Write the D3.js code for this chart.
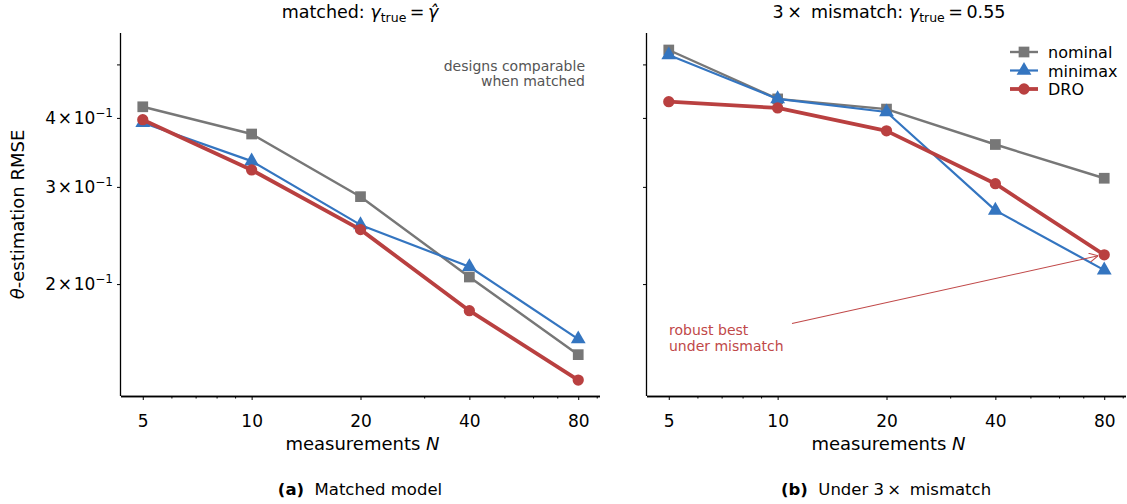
<!DOCTYPE html>
<html><head><meta charset="utf-8">
<script src="https://cdn.jsdelivr.net/npm/d3@7"></script>
<style>body{margin:0;background:#fff}text{font-family:"DejaVu Sans",sans-serif}</style>
</head><body>
<svg id="c" width="1127" height="504"></svg>
<script>
const Ns = [5, 10, 20, 40, 80];
const seriesNames = ["nominal", "minimax", "DRO"];
// panel (a) matched
const matchedNominal = [0.419, 0.374, 0.288, 0.206, 0.149];
const matchedMinimax = [0.392, 0.334, 0.256, 0.215, 0.159];
const matchedDRO     = [0.397, 0.322, 0.251, 0.179, 0.134];
// panel (b) mismatch
const mismatchNominal = [0.531, 0.433, 0.415, 0.358, 0.311];
const mismatchMinimax = [0.520, 0.433, 0.410, 0.272, 0.212];
const mismatchDRO     = [0.428, 0.417, 0.379, 0.304, 0.226];
const yTicks = [0.2, 0.3, 0.4, 0.5];
const yTickLabels = ["2", "3", "4", ""];
const xMinor = [6, 7, 8, 9, 30, 50, 60, 70, 90];

const colors = {nominal: "#777777", minimax: "#3475c0", DRO: "#b94040"};
const widths = {nominal: 2.4, minimax: 2.2, DRO: 3.8};
const shapes = {nominal: d3.symbolSquare, minimax: d3.symbolTriangle, DRO: d3.symbolCircle};
const sizes = {nominal: 115, minimax: 95, DRO: 100};

const svg = d3.select("#c");
const yTop = 33, yBottom = 396;
const lo = Math.log10(5) - 0.05 * Math.log10(16), hi = Math.log10(80) + 0.05 * Math.log10(16);
const y = d3.scaleLog().domain([0.1254, 0.570]).range([yBottom, yTop]);

function panel(x0, x1, data, showY) {
  const x = d3.scaleLog().domain([Math.pow(10, lo), Math.pow(10, hi)]).range([x0, x1]);
  const g = svg.append("g");
  seriesNames.forEach(name => {
    const vals = data[name];
    const line = d3.line().x((d, i) => x(Ns[i])).y(d => y(d));
    g.append("path").attr("d", line(vals)).attr("fill", "none")
      .attr("stroke", colors[name]).attr("stroke-width", widths[name]).attr("stroke-linejoin", "round");
    g.selectAll(null).data(vals).enter().append("path")
      .attr("d", d3.symbol().type(shapes[name]).size(sizes[name]))
      .attr("transform", (d, i) => `translate(${x(Ns[i])},${y(d)})`)
      .attr("fill", colors[name]);
  });
  const xa = g.append("g").attr("transform", `translate(0,${yBottom})`)
    .call(d3.axisBottom(x).tickValues(Ns).tickFormat(d3.format("d")).tickSize(4));
  const xm = g.append("g").attr("transform", `translate(0,${yBottom})`)
    .call(d3.axisBottom(x).tickValues(xMinor).tickFormat("").tickSize(2.5));
  [xa, xm].forEach(a => { a.select(".domain").attr("d", `M${x0},0.5H${x1}`).attr("stroke-width", 1.3); a.selectAll("line").attr("stroke-width", 1); });
  xa.selectAll("text").attr("font-size", 17).attr("fill", "#000").attr("y", 31).attr("dy", 0);
  const ya = g.append("g").attr("transform", `translate(${x0},0)`)
    .call(d3.axisLeft(y).tickValues(yTicks).tickFormat("").tickSize(4));
  ya.select(".domain").attr("d", `M-0.5,${yTop}V${yBottom}`).attr("stroke-width", 1.3);
  if (showY) {
    yTicks.forEach((t, i) => {
      if (!yTickLabels[i]) return;
      const tx = g.append("text").attr("x", x0 - 8).attr("y", y(t) + 6).attr("text-anchor", "end").attr("font-size", 17);
      tx.append("tspan").text(yTickLabels[i] + "\u200a×\u200a10");
      tx.append("tspan").attr("dy", -7).attr("font-size", 12).text("\u22121");
    });
  }
  const cx = (x0 + x1) / 2;
  const xl = g.append("text").attr("x", cx + 2).attr("y", 450).attr("text-anchor", "middle").attr("font-size", 18);
  xl.append("tspan").text("measurements ");
  xl.append("tspan").attr("font-style", "italic").text("N");
  return x;
}

const xA = panel(121, 600, {nominal: matchedNominal, minimax: matchedMinimax, DRO: matchedDRO}, true);
const xB = panel(647, 1126, {nominal: mismatchNominal, minimax: mismatchMinimax, DRO: mismatchDRO}, false);

const yl = svg.append("text").attr("transform", `translate(24,${(yTop + yBottom) / 2}) rotate(-90)`)
  .attr("text-anchor", "middle").attr("font-size", 18);
yl.append("tspan").attr("font-style", "italic").text("θ");
yl.append("tspan").text("-estimation RMSE");

function title(cx, pre, post) {
  const t = svg.append("text").attr("x", cx).attr("y", 18).attr("text-anchor", "middle").attr("font-size", 17.5);
  t.append("tspan").text(pre);
  t.append("tspan").attr("font-style", "italic").text("γ");
  t.append("tspan").attr("dy", 4).attr("font-size", 12.5).text("true");
  t.append("tspan").attr("dy", -4).text("\u2009=\u2009");
  if (post === null) {
    t.append("tspan").attr("font-style", "italic").text("γ\u0302");
  } else t.append("tspan").text(post);
}
title(360, "matched: ", null);
title(889, "3\u2009×\u2009 mismatch: ", "0.55");

const a1 = svg.append("text").attr("text-anchor", "end").attr("font-size", 14).attr("fill", "#555");
a1.append("tspan").attr("x", 585).attr("y", 71).text("designs comparable");
a1.append("tspan").attr("x", 585).attr("y", 86).text("when matched");

const red = "#c04848";
const a2 = svg.append("text").attr("font-size", 14).attr("fill", red);
a2.append("tspan").attr("x", 669).attr("y", 335).text("robust best");
a2.append("tspan").attr("x", 669).attr("y", 351).text("under mismatch");
svg.append("defs").append("marker").attr("id", "ah").attr("viewBox", "0 0 10 10").attr("refX", 10).attr("refY", 5)
  .attr("markerWidth", 9).attr("markerHeight", 9).attr("markerUnits", "userSpaceOnUse").attr("orient", "auto")
  .append("path").attr("d", "M0,0L10,5L0,10").attr("fill", "none").attr("stroke", red).attr("stroke-width", 1.2);
const ax = xB(80) - 6, ay = y(mismatchDRO[4]) + 1;
svg.append("line").attr("x1", 792).attr("y1", 323.5).attr("x2", ax).attr("y2", ay)
  .attr("stroke", red).attr("stroke-width", 1.1).attr("marker-end", "url(#ah)");

seriesNames.forEach((name, i) => {
  const ly = 52 + i * 18.5;
  svg.append("line").attr("x1", 1010).attr("x2", 1038).attr("y1", ly).attr("y2", ly)
    .attr("stroke", colors[name]).attr("stroke-width", widths[name]);
  svg.append("path").attr("d", d3.symbol().type(shapes[name]).size(sizes[name]))
    .attr("transform", `translate(1024,${ly})`).attr("fill", colors[name]);
  svg.append("text").attr("x", 1048).attr("y", ly + 6).attr("font-size", 16).text(name);
});

function caption(cx, b, rest) {
  const t = svg.append("text").attr("x", cx).attr("y", 495).attr("text-anchor", "middle").attr("font-size", 16.5)
    .attr("xml:space", "preserve");
  t.append("tspan").attr("font-weight", "bold").text(b);
  t.append("tspan").text("  " + rest);
}
caption(360, "(a)", "Matched model");
caption(886, "(b)", "Under 3\u2009×\u2009 mismatch");
</script>
</body></html>
